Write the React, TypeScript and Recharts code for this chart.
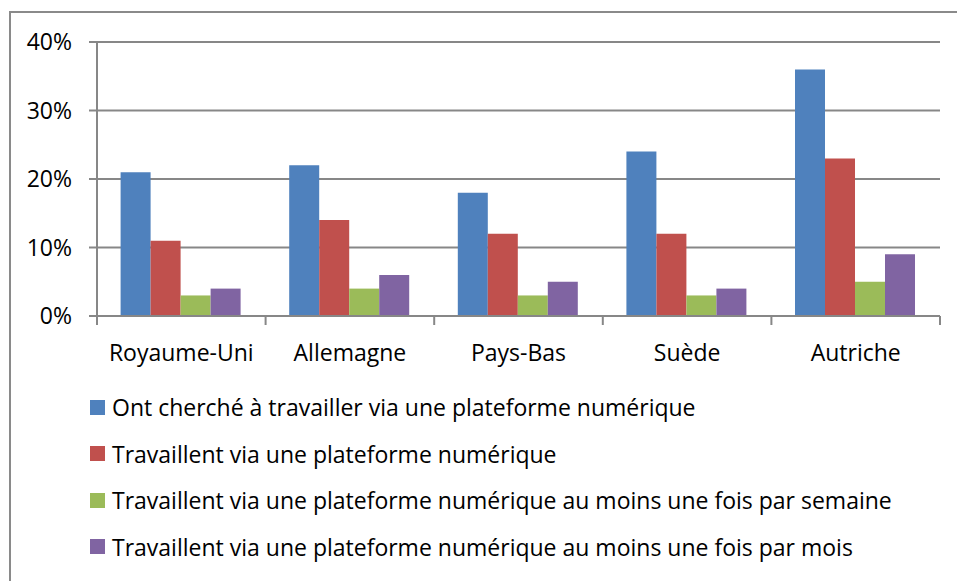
import { BarChart, Bar, XAxis, YAxis, CartesianGrid } from "recharts";

const countries = ["Royaume-Uni", "Allemagne", "Pays-Bas", "Suède", "Autriche"];
const searched = [21, 22, 18, 24, 36];
const working = [11, 14, 12, 12, 23];
const weekly = [3, 4, 3, 3, 5];
const monthly = [4, 6, 5, 4, 9];
const yTicks = [0, 10, 20, 30, 40];

const series = [
  { key: "searched", name: "Ont cherché à travailler via une plateforme numérique", color: "#4F81BD" },
  { key: "working", name: "Travaillent via une plateforme numérique", color: "#C0504D" },
  { key: "weekly", name: "Travaillent via une plateforme numérique au moins une fois par semaine", color: "#9BBB59" },
  { key: "monthly", name: "Travaillent via une plateforme numérique au moins une fois par mois", color: "#8064A2" },
];

const data = countries.map((c, i) => ({
  country: c,
  searched: searched[i],
  working: working[i],
  weekly: weekly[i],
  monthly: monthly[i],
}));

const FONT = "'Open Sans', sans-serif";
const FS = 23;
const GRID = "#878787";
const PLOT_LEFT = 97;
const PLOT_RIGHT = 940;
const band = (PLOT_RIGHT - PLOT_LEFT) / countries.length;

const CategoryTick = (props: any) => {
  const { x, y, payload, index } = props;
  const left = x - band / 2;
  const right = x + band / 2;
  return (
    <g>
      <line x1={left} y1={y} x2={left} y2={y + 9} stroke={GRID} strokeWidth={2} />
      {index === countries.length - 1 && (
        <line x1={right} y1={y} x2={right} y2={y + 9} stroke={GRID} strokeWidth={2} />
      )}
      <text x={x} y={y + 45} textAnchor="middle" fontSize={FS} fill="#000" fontFamily={FONT}>
        {payload.value}
      </text>
    </g>
  );
};

export default function App() {
  return (
    <div style={{ position: "fixed", left: 0, top: 0, width: 957, height: 581, overflow: "hidden", background: "#fff" }}>
      <div
        style={{
          position: "absolute",
          left: 9,
          top: 11,
          width: 1000,
          height: 700,
          border: "2px solid #8a8a8a",
          boxSizing: "border-box",
        }}
      />
      <div style={{ position: "absolute", left: 0, top: 0 }}>
        <BarChart
          width={957}
          height={581}
          data={data}
          margin={{ top: 42, right: 957 - PLOT_RIGHT, bottom: 0, left: 0 }}
          barCategoryGap="14%"
          barGap={0}
        >
          <CartesianGrid vertical={false} stroke={GRID} strokeWidth={2} />
          <XAxis
            dataKey="country"
            height={265}
            tickLine={false}
            tickSize={0}
            tickMargin={0}
            axisLine={{ stroke: GRID, strokeWidth: 2 }}
            tick={<CategoryTick />}
            interval={0}
          />
          <YAxis
            width={PLOT_LEFT}
            domain={[0, 40]}
            ticks={yTicks}
            tickFormatter={(v) => `${v}%`}
            tickSize={8}
            tickMargin={17}
            tickLine={{ stroke: GRID, strokeWidth: 2 }}
            axisLine={{ stroke: GRID, strokeWidth: 2 }}
            tick={{ fontSize: FS, fill: "#000", fontFamily: FONT }}
          />
          {series.map((s) => (
            <Bar key={s.key} dataKey={s.key} name={s.name} fill={s.color} isAnimationActive={false} />
          ))}
        </BarChart>
      </div>
      <div style={{ position: "absolute", left: 90, top: 384, fontFamily: FONT, fontSize: FS, color: "#000" }}>
        {series.map((s) => (
          <div key={s.key} style={{ display: "flex", alignItems: "center", height: 46.5 }}>
            <span style={{ width: 15, height: 15, background: s.color, marginRight: 7, display: "inline-block" }} />
            <span>{s.name}</span>
          </div>
        ))}
      </div>
    </div>
  );
}
